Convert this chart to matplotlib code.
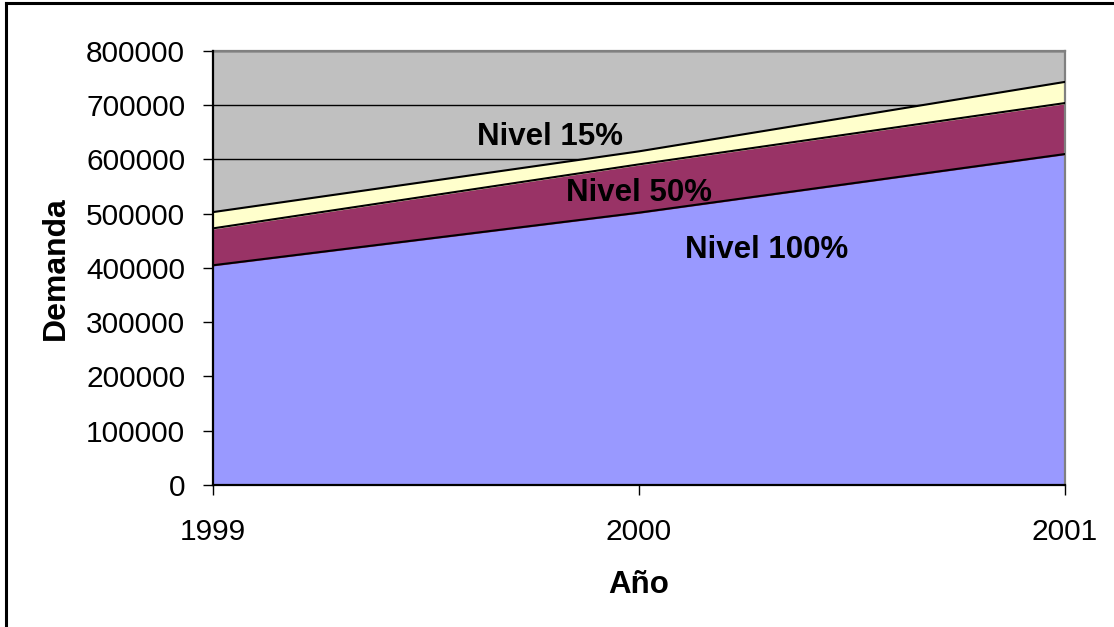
import matplotlib.pyplot as plt
from matplotlib.lines import Line2D

plt.rcParams['font.family'] = ['Liberation Sans', 'DejaVu Sans']

years = [1999, 2000, 2001]
nivel_100 = [405000, 502000, 610000]
nivel_50 = [473000, 591000, 704000]
nivel_15 = [503000, 615000, 743000]
y_ticks = [0, 100000, 200000, 300000, 400000, 500000, 600000, 700000, 800000]

fig = plt.figure(figsize=(11.14, 6.27), dpi=100)
ax = fig.add_axes([0.1912, 0.2265, 0.7648, 0.6922])
ax.set_facecolor('#C0C0C0')

# stacked levels, each one filled from the level below
ax.fill_between(years, 0, nivel_100, color='#9999FF', zorder=2)
ax.fill_between(years, nivel_100, nivel_50, color='#993366', zorder=2)
ax.fill_between(years, nivel_50, nivel_15, color='#FFFFCC', zorder=2)
for lvl in (nivel_100, nivel_50, nivel_15):
    ax.plot(years, lvl, color='black', linewidth=1.5, zorder=3)

ax.set_xlim(1999, 2001)
ax.set_ylim(0, 800000)
ax.set_xticks(years)
ax.set_yticks(y_ticks)
ax.set_axisbelow(True)
ax.yaxis.grid(True, color='black', linewidth=1.0)
ax.tick_params(axis='both', labelsize=21.5, length=7, width=1, direction='out')
ax.tick_params(axis='y', pad=13)
ax.tick_params(axis='x', pad=17)

for s in ('left', 'bottom'):
    ax.spines[s].set_color('black')
    ax.spines[s].set_linewidth(1.6)
    ax.spines[s].set_zorder(4)
for s in ('top', 'right'):
    ax.spines[s].set_color('#808080')
    ax.spines[s].set_linewidth(1.6)

ax.set_xlabel('Año', fontsize=22.5, fontweight='bold', labelpad=17)
ax.set_ylabel('Demanda', fontsize=23, fontweight='bold', labelpad=11)

ax.text(1999.79, 641500, 'Nivel 15%', fontsize=22.5, fontweight='bold',
        ha='center', va='center', zorder=5)
ax.text(2000.0, 538000, 'Nivel 50%', fontsize=22.5, fontweight='bold',
        ha='center', va='center', zorder=5)
ax.text(2000.30, 433000, 'Nivel 100%', fontsize=22.5, fontweight='bold',
        ha='center', va='center', zorder=5)

# frame lines along the left and top of the figure
fig.add_artist(Line2D([6 / 1114, 6 / 1114], [0, 1 - 3 / 627],
                      color='black', linewidth=2.2, transform=fig.transFigure))
fig.add_artist(Line2D([6 / 1114, 1], [1 - 3 / 627, 1 - 3 / 627],
                      color='black', linewidth=2.2, transform=fig.transFigure))

fig.savefig('out.png', dpi=100)
